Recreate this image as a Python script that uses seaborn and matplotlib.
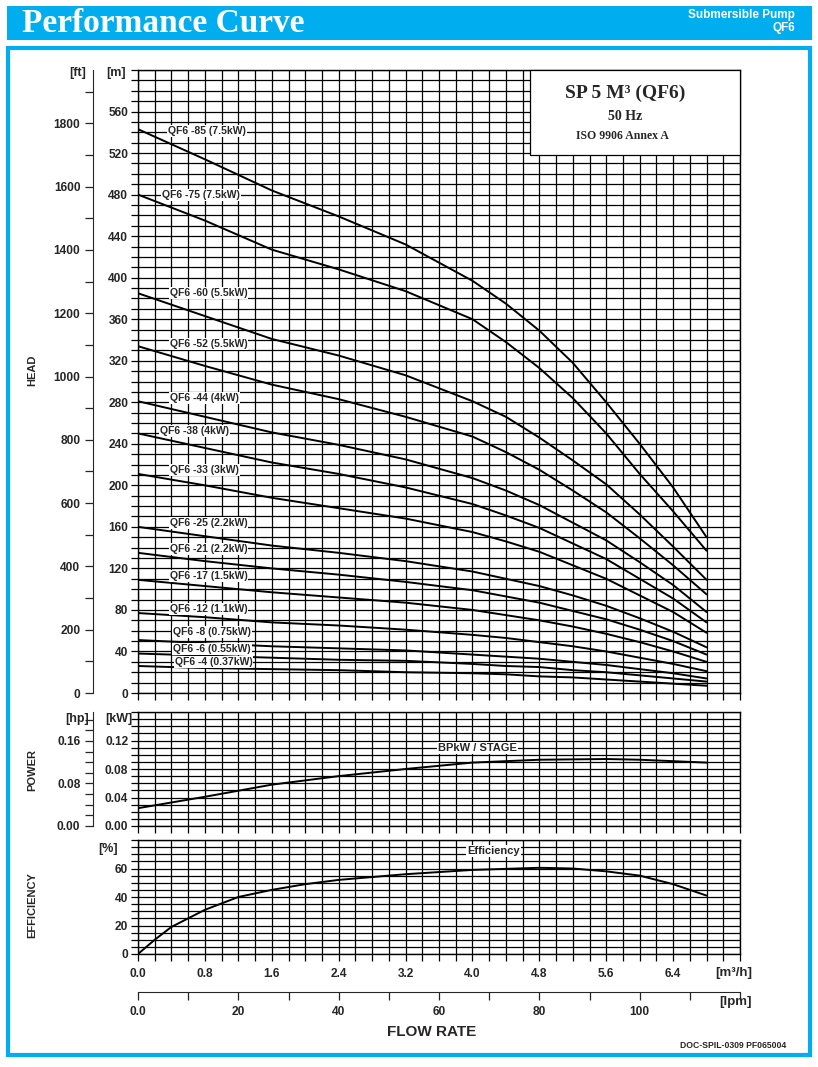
import numpy as np
import pandas as pd
import matplotlib
matplotlib.use("Agg")
import matplotlib.pyplot as plt
import seaborn as sns
from matplotlib.patches import Rectangle
from matplotlib.ticker import MultipleLocator, FixedLocator, FuncFormatter

# flow points in m3/h where the head curves were read
flow = [0.0, 0.8, 1.6, 2.4, 3.2, 4.0, 4.4, 4.8, 5.2, 5.6, 6.0, 6.4, 6.8]

models = ["QF6 -85 (7.5kW)", "QF6 -75 (7.5kW)", "QF6 -60 (5.5kW)", "QF6 -52 (5.5kW)",
          "QF6 -44 (4kW)", "QF6 -38 (4kW)", "QF6 -33 (3kW)", "QF6 -25 (2.2kW)",
          "QF6 -21 (2.2kW)", "QF6 -17 (1.5kW)", "QF6 -12 (1.1kW)", "QF6 -8 (0.75kW)",
          "QF6 -6 (0.55kW)", "QF6 -4 (0.37kW)"]

head_85 = [543, 514, 484, 459, 432, 397, 375, 349, 318, 280, 240, 198, 150]
head_75 = [480, 455, 427, 408, 387, 360, 338, 313, 284, 250, 211, 175, 137]
head_60 = [385, 363, 341, 325, 306, 281, 266, 246, 224, 201, 172, 141, 109]
head_52 = [334, 315, 297, 283, 266, 247, 232, 215, 195, 174, 149, 123, 95]
head_44 = [281, 266, 251, 239, 225, 207, 195, 181, 164, 147, 126, 104, 78]
head_38 = [250, 236, 222, 211, 198, 182, 171, 159, 144, 129, 110, 91, 68]
head_33 = [211, 200, 188, 178, 168, 155, 146, 136, 123, 110, 94, 78, 58]
head_25 = [160, 151, 142, 135, 127, 117, 110, 103, 94, 84, 72, 59, 44]
head_21 = [135, 127, 120, 114, 107, 99, 93, 87, 79, 71, 61, 50, 37]
head_17 = [109, 103, 97, 92, 87, 80, 75, 70, 64, 57, 49, 40, 30]
head_12 = [77, 73, 68, 65, 61, 56, 53, 49, 45, 40, 34, 28, 21]
head_8 = [51, 48, 45, 43, 41, 37, 35, 33, 30, 27, 23, 19, 14]
head_6 = [38, 36, 34, 32, 31, 28, 26, 25, 22, 20, 17, 14, 11]
head_4 = [26, 24, 23, 22, 20, 19, 18, 16, 15, 13, 11, 9, 7]

heads = [head_85, head_75, head_60, head_52, head_44, head_38, head_33,
         head_25, head_21, head_17, head_12, head_8, head_6, head_4]

# power per stage (kW)
power_flow = [0.0, 0.8, 1.6, 2.4, 3.2, 4.0, 4.8, 5.6, 6.0, 6.4, 6.8]
power_kw = [0.025, 0.041, 0.058, 0.070, 0.080, 0.089, 0.093, 0.094, 0.093, 0.091, 0.089]

# efficiency (%)
eff_flow = [0.0, 0.2, 0.4, 0.8, 1.2, 1.6, 2.0, 2.4, 3.2, 4.0, 4.8, 5.2, 5.6, 6.0, 6.4, 6.8]
eff_pct = [0, 10, 19, 31, 40, 45, 49, 52, 56, 59, 60.5, 60, 58, 55, 49, 41]

# tick labels
flow_ticks = [0.0, 0.8, 1.6, 2.4, 3.2, 4.0, 4.8, 5.6, 6.4]
lpm_ticks = [0, 20, 40, 60, 80, 100]
head_ticks = list(range(0, 561, 40))
ft_ticks = list(range(0, 1801, 200))
kw_ticks = [0.0, 0.04, 0.08, 0.12]
hp_ticks = [0.0, 0.08, 0.16]
eff_ticks = [0, 20, 40, 60]

# label anchor (x in m3/h, y in m)
label_pos = [(0.36, 541), (0.29, 480), (0.38, 385), (0.38, 336), (0.38, 284),
             (0.26, 252), (0.38, 215), (0.38, 164), (0.38, 139), (0.38, 113),
             (0.38, 81), (0.42, 59), (0.42, 42), (0.44, 30)]

df = pd.DataFrame({
    "flow": np.tile(flow, len(models)),
    "head": np.concatenate(heads),
    "model": np.repeat(models, len(flow)),
})

sns.set_style("white")
plt.rcParams["font.family"] = ["Liberation Sans", "DejaVu Sans"]
plt.rcParams["font.weight"] = "bold"

BLUE = "#00AEEF"
W, H = 818, 1067
TICK_FS = 8.6
fig = plt.figure(figsize=(W / 100, H / 100), dpi=100)


def box(l, t, r, b):
    return [l / W, 1 - b / H, (r - l) / W, (b - t) / H]


def px(x, y):
    return x / W, 1 - y / H


# header band and frame
fig.patches.append(Rectangle(px(7, 40), 805 / W, 34 / H, transform=fig.transFigure,
                             facecolor=BLUE, edgecolor="none"))
fig.patches.append(Rectangle(px(8, 1055), 802 / W, 1007 / H, transform=fig.transFigure,
                             facecolor="none", edgecolor=BLUE, lw=3))
fig.text(*px(22, 23), "Performance Curve", color="white", fontsize=24, fontweight="bold",
         family="Liberation Serif", ha="left", va="center")
fig.text(*px(795, 15), "Submersible Pump", color="white", fontsize=8.5, fontweight="bold",
         ha="right", va="center")
fig.text(*px(795, 28), "QF6", color="white", fontsize=8.5, fontweight="bold",
         ha="right", va="center")

ax_h = fig.add_axes(box(138, 70, 740, 693))
ax_p = fig.add_axes(box(138, 712, 740, 826))
ax_e = fig.add_axes(box(138, 840, 740, 954))

GRID = dict(color="black", lw=0.9)


def bold(labels):
    for lab in labels:
        lab.set_fontweight("bold")


def style(ax, ymax, ystep, yticks, fmt, xlabels=False):
    ax.set_xlim(0, 7.2)
    ax.set_ylim(0, ymax)
    ax.xaxis.set_major_locator(FixedLocator(flow_ticks))
    ax.xaxis.set_minor_locator(MultipleLocator(0.2))
    ax.yaxis.set_major_locator(FixedLocator(yticks))
    ax.yaxis.set_minor_locator(MultipleLocator(ystep))
    ax.yaxis.set_major_formatter(FuncFormatter(fmt))
    ax.grid(True, which="both", **GRID)
    ax.set_axisbelow(True)
    ax.tick_params(which="both", direction="out", length=5, width=0.9, color="black",
                   labelsize=TICK_FS, pad=2, left=True, bottom=True)
    ax.tick_params(axis="x", labelbottom=xlabels)
    for s in ax.spines.values():
        s.set_color("black")
        s.set_linewidth(1.0)
    ax.set_xlabel("")
    ax.set_ylabel("")
    bold(ax.get_yticklabels() + ax.get_xticklabels())


def sec_style(sec, axis, ticks, minor, fmt, pad):
    a = sec.yaxis if axis == "y" else sec.xaxis
    a.set_major_locator(FixedLocator(ticks))
    a.set_minor_locator(MultipleLocator(minor))
    a.set_major_formatter(FuncFormatter(fmt))
    sec.tick_params(which="both", direction="out", length=6, width=0.9,
                    labelsize=TICK_FS, pad=pad)
    bold(a.get_ticklabels())


# head curves
for m in models:
    sns.lineplot(data=df[df.model == m], x="flow", y="head", ax=ax_h, color="black",
                 lw=1.4, legend=False)
style(ax_h, 600, 10, head_ticks, lambda v, p: f"{v:.0f}")
for m, (lx, ly) in zip(models, label_pos):
    ax_h.text(lx, ly, m, fontsize=7.5, fontweight="bold", ha="left", va="center", zorder=5,
              bbox=dict(facecolor="white", edgecolor="none", pad=0.7))

sec_ft = ax_h.secondary_yaxis(-0.0748, functions=(lambda m: m / 0.3048, lambda f: f * 0.3048))
sec_style(sec_ft, "y", ft_ticks, 100, lambda v, p: f"{v:.0f}", 3)

# title box
fig.patches.append(Rectangle(px(530, 155), 210 / W, 85 / H, transform=fig.transFigure,
                             facecolor="white", edgecolor="black", lw=0.9, zorder=10))
fig.text(*px(625, 93), "SP 5 M³ (QF6)", family="Liberation Serif", fontsize=14,
         fontweight="bold", ha="center", va="center", zorder=11)
fig.text(*px(625, 117), "50 Hz", family="Liberation Serif", fontsize=10,
         fontweight="bold", ha="center", va="center", zorder=11)
fig.text(*px(622, 136), "ISO 9906 Annex A", family="Liberation Serif", fontsize=8.5,
         fontweight="bold", ha="center", va="center", zorder=11)

# power panel
sns.lineplot(x=power_flow, y=power_kw, ax=ax_p, color="black", lw=1.4)
style(ax_p, 0.16, 0.01, kw_ticks, lambda v, p: f"{v:.2f}")
ax_p.text(4.06, 0.11, "BPkW / STAGE", fontsize=8, fontweight="bold", ha="center",
          va="center", zorder=5, bbox=dict(facecolor="white", edgecolor="none", pad=0.7))
sec_hp = ax_p.secondary_yaxis(-0.0748, functions=(lambda k: k / 0.7457, lambda h: h * 0.7457))
sec_style(sec_hp, "y", hp_ticks, 0.02, lambda v, p: f"{v:.2f}", 3)

# efficiency panel
sns.lineplot(x=eff_flow, y=eff_pct, ax=ax_e, color="black", lw=1.4)
style(ax_e, 80, 5, eff_ticks, lambda v, p: f"{v:.0f}", xlabels=True)
ax_e.xaxis.set_major_formatter(FuncFormatter(lambda v, p: f"{v:.1f}"))
ax_e.tick_params(axis="x", pad=5)
bold(ax_e.get_xticklabels())
ax_e.text(4.25, 72.5, "Efficiency", fontsize=8, fontweight="bold", ha="center",
          va="center", zorder=5, bbox=dict(facecolor="white", edgecolor="none", pad=0.7))

sec_lpm = ax_e.secondary_xaxis(-0.333, functions=(lambda q: q * 1000 / 60, lambda l: l * 60 / 1000))
sec_style(sec_lpm, "x", lpm_ticks, 10, lambda v, p: "0.0" if v == 0 else f"{v:.0f}", 4)

# unit and axis labels
unit = dict(fontsize=9, fontweight="bold", va="center")
fig.text(*px(78, 73), "[ft]", ha="center", **unit)
fig.text(*px(116, 73), "[m]", ha="center", **unit)
fig.text(*px(77, 719), "[hp]", ha="center", **unit)
fig.text(*px(119, 719), "[kW]", ha="center", **unit)
fig.text(*px(108, 849), "[%]", ha="center", **unit)
fig.text(*px(752, 973), "[m³/h]", ha="right", fontsize=9.5, fontweight="bold", va="center")
fig.text(*px(752, 1002), "[lpm]", ha="right", fontsize=9.5, fontweight="bold", va="center")
fig.text(*px(432, 1032), "FLOW RATE", ha="center", fontsize=11, fontweight="bold", va="center")
fig.text(*px(786, 1046), "DOC-SPIL-0309 PF065004", ha="right", fontsize=6.2,
         fontweight="bold", va="center")
side = dict(fontsize=8, fontweight="bold", rotation=90, ha="center", va="center")
fig.text(*px(32, 370), "HEAD", **side)
fig.text(*px(32, 770), "POWER", **side)
fig.text(*px(32, 905), "EFFICIENCY", **side)

fig.savefig("out.png", dpi=100)
